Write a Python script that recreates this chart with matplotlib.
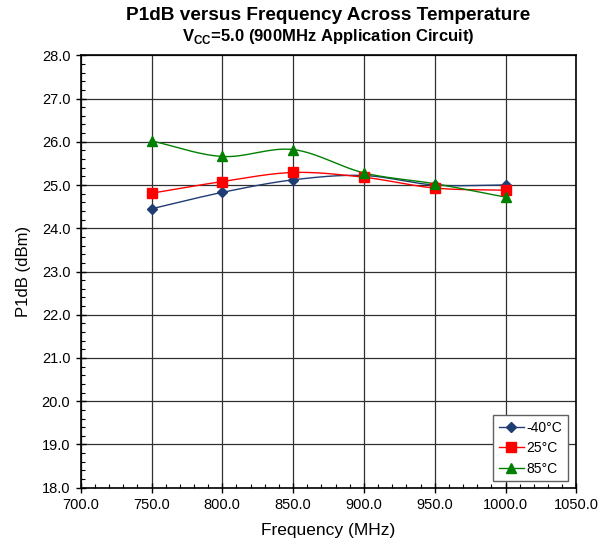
import numpy as np
import matplotlib
matplotlib.use("Agg")
import matplotlib.pyplot as plt
from matplotlib.ticker import MultipleLocator, FormatStrFormatter

plt.rcParams["font.family"] = ["Liberation Sans", "DejaVu Sans"]
plt.rcParams["mathtext.fontset"] = "custom"
plt.rcParams["mathtext.rm"] = "Liberation Sans"
plt.rcParams["mathtext.bf"] = "Liberation Sans:bold"

freq = [750, 800, 850, 900, 950, 1000]
p1db_m40 = [24.45, 24.83, 25.12, 25.22, 25.00, 25.00]
p1db_25 = [24.81, 25.08, 25.29, 25.18, 24.93, 24.88]
p1db_85 = [26.02, 25.66, 25.82, 25.28, 25.03, 24.72]
labels = ["-40°C", "25°C", "85°C"]


def smooth(x, y, n=30):
    # Catmull-Rom curve through the points, like Excel's smoothed line
    x = np.asarray(x, float)
    y = np.asarray(y, float)
    px = np.concatenate([[2 * x[0] - x[1]], x, [2 * x[-1] - x[-2]]])
    py = np.concatenate([[2 * y[0] - y[1]], y, [2 * y[-1] - y[-2]]])
    xs, ys = [], []
    t = np.linspace(0, 1, n)
    for i in range(1, len(px) - 2):
        for p, out in ((px, xs), (py, ys)):
            p0, p1, p2, p3 = p[i - 1], p[i], p[i + 1], p[i + 2]
            out.extend(0.5 * (2 * p1 + (-p0 + p2) * t
                              + (2 * p0 - 5 * p1 + 4 * p2 - p3) * t ** 2
                              + (-p0 + 3 * p1 - 3 * p2 + p3) * t ** 3))
    return xs, ys


fig = plt.figure(figsize=(6.0, 5.41), dpi=100)
ax = fig.add_axes([0.1345, 0.0985, 0.826, 0.7993])

series = [
    (p1db_m40, "#1F3C73", "D", 5.5),
    (p1db_25, "#FF0000", "s", 6.5),
    (p1db_85, "#008000", "^", 7),
]
for (vals, col, mk, ms), lab in zip(series, labels):
    sx, sy = smooth(freq, vals)
    ax.plot(sx, sy, color=col, lw=1.0, zorder=3)
    ax.plot(freq, vals, ls="none", marker=mk, ms=ms, color=col, zorder=4)
    ax.plot([], [], color=col, lw=1.0, marker=mk, ms=ms, label=lab)

ax.set_xlim(700, 1050)
ax.set_ylim(18, 28)
ax.xaxis.set_major_locator(MultipleLocator(50))
ax.xaxis.set_minor_locator(MultipleLocator(10))
ax.yaxis.set_major_locator(MultipleLocator(1))
ax.yaxis.set_minor_locator(MultipleLocator(0.2))
ax.xaxis.set_major_formatter(FormatStrFormatter("%.1f"))
ax.yaxis.set_major_formatter(FormatStrFormatter("%.1f"))
ax.tick_params(which="major", direction="inout", length=7, width=1,
               labelsize=10.5, pad=4)
ax.tick_params(which="minor", direction="in", length=3, width=0.8)
ax.grid(True, which="major", color="#303030", lw=0.9)
ax.set_axisbelow(True)
for s in ax.spines.values():
    s.set_linewidth(1.2)

ax.set_xlabel("Frequency (MHz)", fontsize=12.5)
ax.set_ylabel("P1dB (dBm)", fontsize=12)
ax.xaxis.set_label_coords(0.5, -0.081)
ax.yaxis.set_label_coords(-0.10, 0.5)

fig.text(0.547, 0.971, "P1dB versus Frequency Across Temperature",
         ha="center", va="center", fontsize=13.7, fontweight="bold")
fig.text(0.547, 0.932, r"V$_{\mathbf{CC}}$=5.0 (900MHz Application Circuit)",
         ha="center", va="center", fontsize=12, fontweight="bold")

leg = ax.legend(loc="upper left", bbox_to_anchor=(0.832, 0.167), fontsize=10,
                fancybox=False, framealpha=1, edgecolor="#606060",
                handlelength=1.8, borderpad=0.4, labelspacing=0.45,
                handletextpad=0.2, borderaxespad=0)
leg.get_frame().set_linewidth(1.0)

fig.savefig("out.png", dpi=100, facecolor="white")
